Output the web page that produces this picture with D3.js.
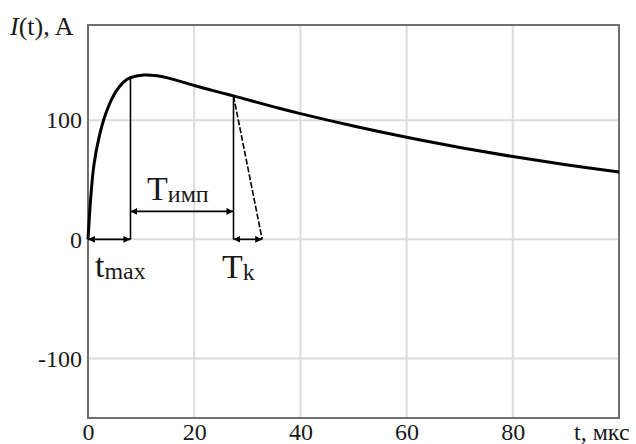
<!DOCTYPE html>
<html>
<head>
<meta charset="utf-8">
<script src="https://cdn.jsdelivr.net/npm/d3@7"></script>
<style>
  body { margin: 0; background: #fff; }
  svg text { font-family: "Liberation Serif", "Times New Roman", serif !important; fill: #1a1a1a; }
</style>
</head>
<body>
<svg id="chart" width="636" height="444"></svg>
<script>
// curve I(t)
const tValues = [0, 0.25, 0.5, 1.1, 2.1, 3.3, 4.9, 6.8, 8, 10.5, 13, 15, 20, 25, 27.4, 30, 32.4, 36, 40, 50, 60, 70, 80, 90, 100];
const iValues = [0, 18, 34, 62, 86, 105, 121.5, 132.5, 135.8, 138, 137.4, 135.6, 129.2, 123.2, 120.5, 117.3, 114.4, 110.1, 105.6, 95.2, 85.7, 77.2, 69.5, 62.6, 56.5];

// ticks
const xTicks = [0, 20, 40, 60, 80];
const yTicks = [-100, 0, 100];

// annotation points (t in мкс, I in A)
const tMax = 8;
const tK = 27.4;
const tKEnd = 32.8;
const impLevel = 23.5;

const width = 636, height = 444;
const margin = {left: 88, right: 17, top: 25, bottom: 26};

const svg = d3.select("#chart");

const x = d3.scaleLinear().domain([0, 100]).range([margin.left, width - margin.right]);
const y = d3.scaleLinear().domain([-150, 180]).range([height - margin.bottom, margin.top]);

const curveData = tValues.map((t, i) => [t, iValues[i]]);
const iAt = t => {
  // read the drawn curve at t from the listed points
  const k = d3.bisectLeft(tValues, t);
  if (tValues[k] === t) return iValues[k];
  const f = (t - tValues[k - 1]) / (tValues[k] - tValues[k - 1]);
  return iValues[k - 1] + f * (iValues[k] - iValues[k - 1]);
};

// grid
svg.append("g")
  .selectAll("line")
  .data(xTicks.filter(d => d > 0))
  .join("line")
  .attr("x1", d => x(d)).attr("x2", d => x(d))
  .attr("y1", y.range()[1]).attr("y2", y.range()[0])
  .attr("stroke", "#dcdcdc").attr("stroke-width", 2);

svg.append("g")
  .selectAll("line")
  .data(yTicks)
  .join("line")
  .attr("x1", x.range()[0]).attr("x2", x.range()[1])
  .attr("y1", d => y(d)).attr("y2", d => y(d))
  .attr("stroke", "#dcdcdc").attr("stroke-width", 2);

// axes (labels only)
const xAxis = svg.append("g")
  .attr("transform", `translate(0,${y.range()[0]})`)
  .call(d3.axisBottom(x).tickValues(xTicks).tickSize(0).tickPadding(6).tickFormat(d => String(d)));
const yAxis = svg.append("g")
  .attr("transform", `translate(${x.range()[0]},0)`)
  .call(d3.axisLeft(y).tickValues(yTicks).tickSize(0).tickPadding(6).tickFormat(d => String(d)));

[xAxis, yAxis].forEach(a => {
  a.select(".domain").remove();
  a.attr("font-family", "Liberation Serif, serif");
  a.selectAll("text")
    .attr("font-size", 24)
    .attr("fill", "#1a1a1a");
});
xAxis.selectAll("text").attr("dy", "0.68em");

// frame
svg.append("rect")
  .attr("x", x.range()[0]).attr("y", y.range()[1])
  .attr("width", x.range()[1] - x.range()[0])
  .attr("height", y.range()[0] - y.range()[1])
  .attr("fill", "none")
  .attr("stroke", "#707070")
  .attr("stroke-width", 2);

// axis titles
const yTitle = svg.append("text").attr("x", 10).attr("y", 35).attr("font-size", 26);
yTitle.append("tspan").attr("font-style", "italic").text("I");
yTitle.append("tspan").text("(t), A");

svg.append("text").attr("x", 574).attr("y", 440).attr("font-size", 24).text("t, мкс");

// arrow markers
const defs = svg.append("defs");
defs.append("marker")
  .attr("id", "arr")
  .attr("viewBox", "0 0 10 10")
  .attr("refX", 10).attr("refY", 5)
  .attr("markerWidth", 7).attr("markerHeight", 7)
  .attr("markerUnits", "userSpaceOnUse")
  .attr("orient", "auto-start-reverse")
  .append("path")
  .attr("d", "M0,0 L10,5 L0,10 Z")
  .attr("fill", "#000");

// the curve
const line = d3.line()
  .x(d => x(d[0]))
  .y(d => y(d[1]))
  .curve(d3.curveCatmullRom.alpha(0.5));

svg.append("path")
  .datum(curveData)
  .attr("d", line)
  .attr("fill", "none")
  .attr("stroke", "#000")
  .attr("stroke-width", 3);

// annotation lines
const ann = svg.append("g").attr("stroke", "#000").attr("stroke-width", 1.6).attr("fill", "none");

ann.append("line")
  .attr("x1", x(tMax)).attr("x2", x(tMax))
  .attr("y1", y(0)).attr("y2", y(iAt(tMax)));
ann.append("line")
  .attr("x1", x(tK)).attr("x2", x(tK))
  .attr("y1", y(0)).attr("y2", y(iAt(tK)));
ann.append("line")
  .attr("x1", x(tK)).attr("x2", x(tKEnd))
  .attr("y1", y(iAt(tK))).attr("y2", y(0))
  .attr("stroke-dasharray", "6,2");

const arrows = [
  [0, tMax, 0],
  [tMax, tK, impLevel],
  [tK, tKEnd, 0]
];
ann.selectAll("line.arrow")
  .data(arrows)
  .join("line")
  .attr("class", "arrow")
  .attr("x1", d => x(d[0])).attr("x2", d => x(d[1]))
  .attr("y1", d => y(d[2])).attr("y2", d => y(d[2]))
  .attr("marker-start", "url(#arr)")
  .attr("marker-end", "url(#arr)");

// annotation labels
const label = (px, py, main, sub) => {
  const t = svg.append("text").attr("x", px).attr("y", py).attr("font-size", 34).text(main);
  t.append("tspan").attr("font-size", 24).attr("dy", 2).text(sub);
};
label(147, 200, "T", "имп");
label(95, 277, "t", "max");
label(222, 278, "T", "k");
</script>
</body>
</html>
